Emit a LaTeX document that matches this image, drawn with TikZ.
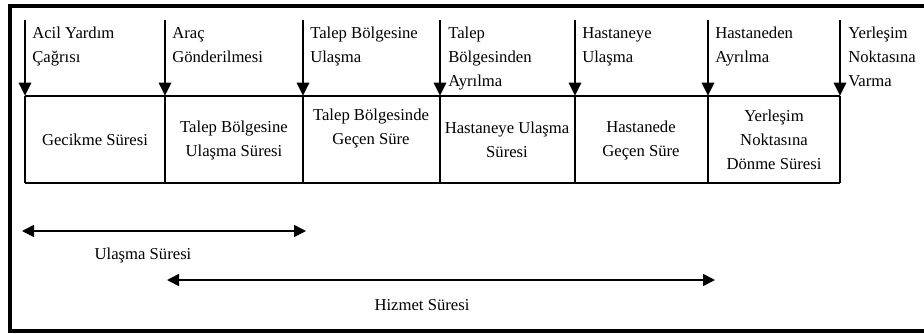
\documentclass[tikz,border=0pt]{standalone}
\usepackage{fontspec}
\setmainfont{Liberation Serif}
\usetikzlibrary{arrows.meta}
\begin{document}
\begin{tikzpicture}[x=0.75pt,y=-0.75pt,font=\fontsize{12.5}{18}\selectfont,
		olay/.style={line width=2.2pt,-{Triangle[length=10pt,width=9pt]}},
		sure/.style={line width=1.2pt,{Triangle[length=9pt,width=9pt]}-{Triangle[length=9pt,width=9pt]}},
		etiket/.style={anchor=north west,align=left,inner sep=0pt},
		hucre/.style={align=center,inner sep=0pt}]
	\useasboundingbox (0,0) rectangle (924,333);
	% dis cerceve
	\draw[line width=2.4pt] (940,6) -- (10,6) -- (10,331) -- (940,331);
	% tablo koseleri
	\coordinate (T1) at (25,96);
	\coordinate (T2) at (165,96);
	\coordinate (T3) at (303,96);
	\coordinate (T4) at (440,96);
	\coordinate (T5) at (575,96);
	\coordinate (T6) at (708,96);
	\coordinate (T7) at (840,96);
	\coordinate (A1) at (25,183);
	\coordinate (A2) at (165,183);
	\coordinate (A3) at (303,183);
	\coordinate (A4) at (440,183);
	\coordinate (A5) at (575,183);
	\coordinate (A6) at (708,183);
	\coordinate (A7) at (840,183);
	\draw[line width=1.4pt] (T1) -- (T7);
	\draw[line width=2.2pt] (A1) -- (A7);
	\foreach \i in {1,...,7}
		\draw[line width=1.4pt] (T\i) -- (A\i);
	% olay oklari
	\foreach \i in {1,...,7}
		\draw[olay] (T\i) ++(0,-76) coordinate (O\i) -- (T\i);
	\node[etiket] (e1) at (32,27) {Acil Yardım\\Çağrısı};
	\node[etiket] (e2) at (172,27) {Araç\\Gönderilmesi};
	\node[etiket] (e3) at (310,27) {Talep Bölgesine\\Ulaşma};
	\node[etiket] (e4) at (448,27) {Talep\\Bölgesinden\\Ayrılma};
	\node[etiket] (e5) at (582,27) {Hastaneye\\Ulaşma};
	\node[etiket] (e6) at (715,27) {Hastaneden\\Ayrılma};
	\node[etiket] (e7) at (848,27) {Yerleşim\\Noktasına\\Varma};
	% hucreler
	\node[hucre] (h1) at (95,140) {Gecikme Süresi};
	\node[hucre] (h2) at (234,140) {Talep Bölgesine\\Ulaşma Süresi};
	\node[hucre] (h3) at (371,128) {Talep Bölgesinde\\Geçen Süre};
	\node[hucre] (h4) at (507,140) {Hastaneye Ulaşma\\Süresi};
	\node[hucre] (h5) at (641,140) {Hastanede\\Geçen Süre};
	\node[hucre] (h6) at (774,140) {Yerleşim\\Noktasına\\Dönme Süresi};
	% sureler
	\coordinate (U1) at (22,231);
	\coordinate (U2) at (306,231);
	\coordinate (H1) at (167,280);
	\coordinate (H2) at (715,280);
	\draw[sure] (U1) -- (U2);
	\draw[sure] (H1) -- (H2);
	\node (ulasma) at (143,255) {Ulaşma Süresi};
	\node (hizmet) at (422,305) {Hizmet Süresi};
\end{tikzpicture}
\end{document}
